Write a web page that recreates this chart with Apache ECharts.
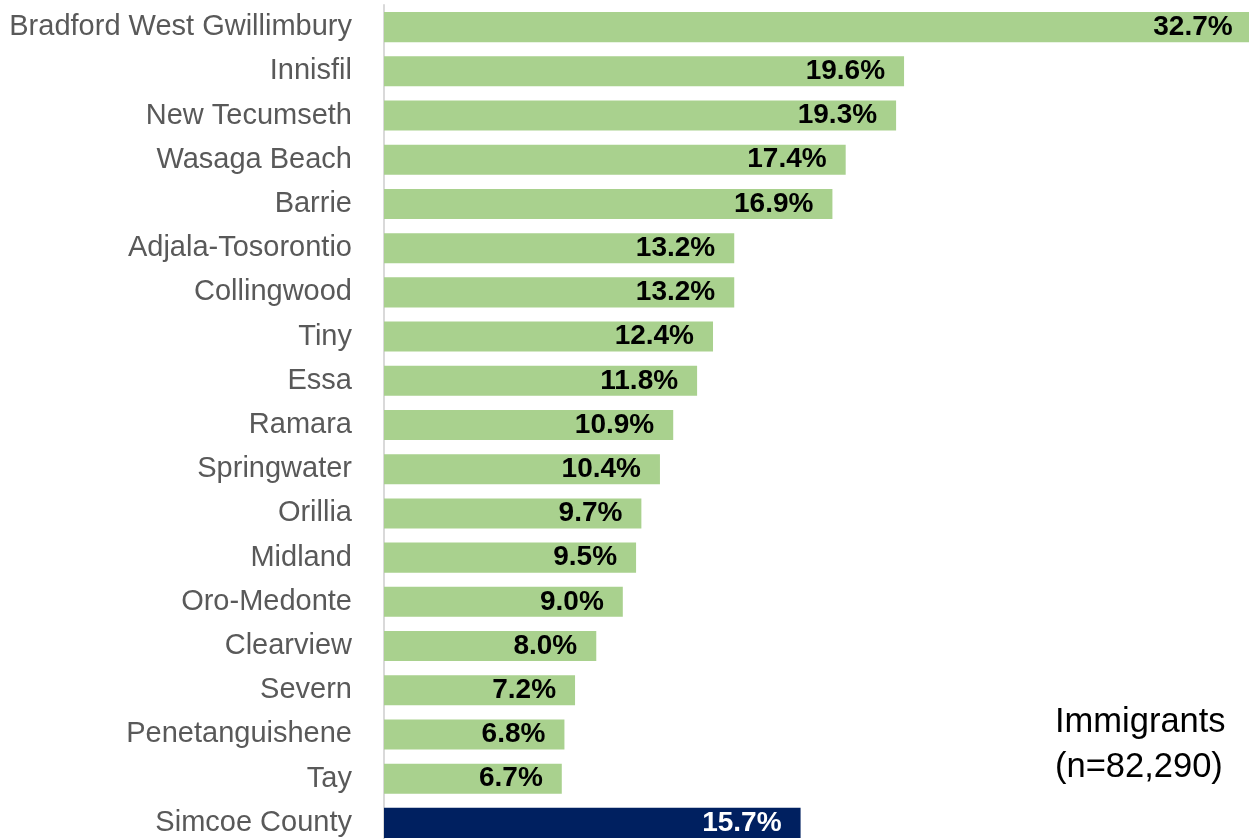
<!DOCTYPE html>
<html>
<head>
<meta charset="utf-8">
<script src="https://cdn.jsdelivr.net/npm/echarts@6/dist/echarts.min.js"></script>
<style>
  html, body { margin: 0; padding: 0; background: #fff; }
  #chart { width: 1249px; height: 839px; }
</style>
</head>
<body>
<div id="chart"></div>
<script>
var regions = [
  'Bradford West Gwillimbury', 'Innisfil', 'New Tecumseth', 'Wasaga Beach', 'Barrie',
  'Adjala-Tosorontio', 'Collingwood', 'Tiny', 'Essa', 'Ramara', 'Springwater',
  'Orillia', 'Midland', 'Oro-Medonte', 'Clearview', 'Severn', 'Penetanguishene',
  'Tay', 'Simcoe County'
];
var shares = [32.7, 19.6, 19.3, 17.4, 16.9, 13.2, 13.2, 12.4, 11.8, 10.9, 10.4,
  9.7, 9.5, 9.0, 8.0, 7.2, 6.8, 6.7, 15.7];
var noteLines = ['Immigrants', '(n=82,290)'];

var dom = document.getElementById('chart');
var myChart = echarts.init(dom, null, { renderer: 'canvas' });

var barData = shares.map(function (v, i) {
  var isTotal = regions[i] === 'Simcoe County';
  return {
    value: v,
    itemStyle: { color: isTotal ? '#002060' : '#A9D18E' },
    label: { color: isTotal ? '#ffffff' : '#000000' }
  };
});

var option = {
  animation: false,
  grid: { left: 384, right: 0, top: 5, height: 840, outerBoundsMode: 'none' },
  xAxis: {
    type: 'value',
    min: 0,
    max: 32.6,
    show: false
  },
  yAxis: {
    type: 'category',
    data: regions,
    inverse: true,
    axisTick: { show: false },
    axisLine: { show: true, lineStyle: { color: '#D9D9D9', width: 2 } },
    axisLabel: {
      color: '#595959',
      fontSize: 29,
      fontFamily: 'Liberation Sans',
      margin: 32
    }
  },
  series: [{
    type: 'bar',
    data: barData,
    clip: false,
    barCategoryGap: '32%',
    label: {
      show: true,
      position: 'insideRight',
      distance: 19,
      fontSize: 28,
      fontWeight: 'bold',
      fontFamily: 'Liberation Sans',
      formatter: function (p) { return p.value.toFixed(1) + '%'; }
    }
  }],
  graphic: [{
    type: 'text',
    left: 1055,
    top: 700,
    style: {
      text: noteLines.join('\n'),
      fontSize: 34.5,
      lineHeight: 45,
      fontFamily: 'Liberation Sans',
      fill: '#000'
    }
  }]
};

myChart.setOption(option);
window.addEventListener('resize', myChart.resize);
</script>
</body>
</html>
